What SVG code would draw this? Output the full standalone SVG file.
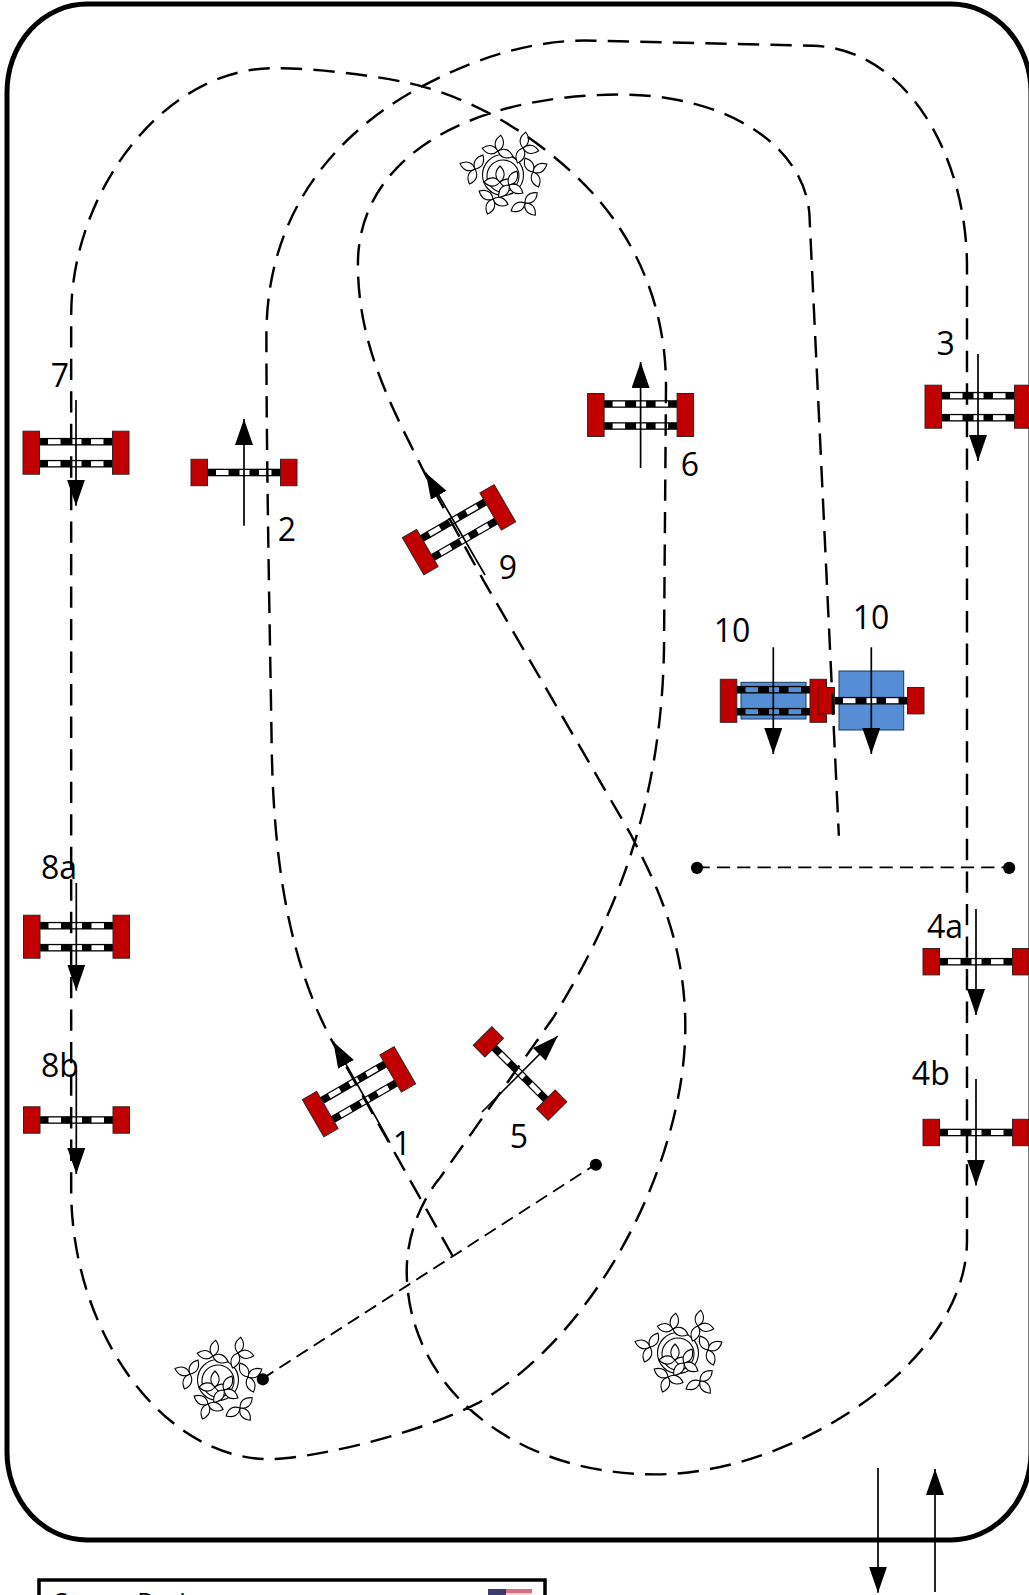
<svg xmlns="http://www.w3.org/2000/svg" xmlns:xlink="http://www.w3.org/1999/xlink" width="1029" height="1595" viewBox="0 0 1029 1595">
<style>
.lb{font-family:"Open Sans","Liberation Sans",sans-serif;font-size:32px;fill:#000;text-anchor:middle}
.w{fill:#c00000;stroke:#3a2020;stroke-width:1}
.r{fill:#000}
.g{fill:#fff}
.bl{fill:#558ed5}
.blo{fill:#558ed5;stroke:#17375e;stroke-width:1}
.ar{stroke:#000;stroke-width:1.7;fill:none;marker-end:url(#ah)}
.course{fill:none;stroke:#000;stroke-width:2.4;stroke-dasharray:21 11}
.ln{fill:none;stroke:#000;stroke-width:1.8;stroke-dasharray:13 7}
.lf{fill:#fff;stroke:#000;stroke-width:1.1}
</style>
<defs>
<marker id="ah" markerUnits="userSpaceOnUse" markerWidth="27" markerHeight="19" refX="26" refY="9" orient="auto"><path d="M0,0 L26,9 L0,18 z" fill="#000"/></marker>
<g id="rail"><rect class="r" x="-37" y="-3.8" width="74" height="7.6"/><rect class="g" x="-28" y="-2.5" width="12.5" height="5"/><rect class="g" x="-4.5" y="-2.5" width="10" height="5"/><rect class="g" x="15" y="-2.5" width="12.5" height="5"/></g>
<g id="railb"><rect class="r" x="-37" y="-3.8" width="74" height="7.6"/><rect class="bl" x="-28" y="-2.5" width="12.5" height="5"/><rect class="bl" x="-4.5" y="-2.5" width="10" height="5"/><rect class="bl" x="15" y="-2.5" width="12.5" height="5"/></g>
<g id="single"><use xlink:href="#rail"/><rect class="w" x="-53" y="-13.2" width="16.5" height="26.4"/><rect class="w" x="36.5" y="-13.2" width="16.5" height="26.4"/></g>
<g id="double"><use xlink:href="#rail" y="-11"/><use xlink:href="#rail" y="11"/><rect class="w" x="-53" y="-21.5" width="16.5" height="43"/><rect class="w" x="36.5" y="-21.5" width="16.5" height="43"/></g>
<path id="leaf" class="lf" d="M0,0 C5,-4 6,-10 0,-16 C-6,-10 -5,-4 0,0z"/>
<g id="cl"><use xlink:href="#leaf" transform="rotate(-100)"/><use xlink:href="#leaf" transform="rotate(-10)"/><use xlink:href="#leaf" transform="rotate(90)"/></g>
<g id="tree">
<circle r="20.5" fill="none" stroke="#000" stroke-width="1.1"/>
<circle cx="0" cy="1" r="16" fill="none" stroke="#000" stroke-width="1.1"/>
<use xlink:href="#cl" transform="translate(-5,-24) rotate(20)"/>
<use xlink:href="#cl" transform="translate(20,-27) rotate(110)"/>
<use xlink:href="#cl" transform="translate(30,-3) rotate(70)"/>
<use xlink:href="#cl" transform="translate(22,28) rotate(150)"/>
<use xlink:href="#cl" transform="translate(-10,24) rotate(210)"/>
<use xlink:href="#cl" transform="translate(-28,-6) rotate(-60)"/>
<use xlink:href="#cl" transform="translate(-3,7) rotate(10)"/>
<use xlink:href="#cl" transform="translate(6,10) rotate(130)"/>
</g>
</defs>
<rect width="1029" height="1595" fill="#fff"/>
<rect id="arena" x="7" y="4" width="1024" height="1536" rx="80" ry="88" fill="#fff" stroke="#000" stroke-width="5"/>
<g id="tree1"><use xlink:href="#tree" x="503" y="175"/></g>
<g id="tree2"><use xlink:href="#tree" x="678" y="1353"/></g>
<g id="tree3"><use xlink:href="#tree" x="218" y="1380"/></g>
<g id="jump1"><use xlink:href="#double" transform="translate(359,1091.7) rotate(-30)"/><path class="ar" d="M390,1142.7 L333.3,1041.7"/><text class="lb" x="402" y="1155">1</text></g>
<g id="jump2"><use xlink:href="#single" x="244" y="472.5"/><path class="ar" d="M244,525.7 V419"/><text class="lb" x="287" y="541">2</text></g>
<g id="jump3"><use xlink:href="#double" x="978" y="406.7"/><path class="ar" d="M978,354 V461"/><text class="lb" x="945.6" y="355">3</text></g>
<g id="jump4a"><use xlink:href="#single" x="976" y="961.7"/><path class="ar" d="M976,909 V1015"/><text class="lb" x="945" y="937.7">4a</text></g>
<g id="jump4b"><use xlink:href="#single" x="976" y="1132.5"/><path class="ar" d="M976,1079 V1185.6"/><text class="lb" x="930.8" y="1085">4b</text></g>
<g id="jump5"><use xlink:href="#single" transform="translate(520,1073.5) rotate(45)"/><path class="ar" d="M482,1112 L557.7,1036"/><text class="lb" x="519" y="1148">5</text></g>
<g id="jump6"><use xlink:href="#double" x="640.6" y="415"/><path class="ar" d="M640.6,468 V362"/><text class="lb" x="689.9" y="476">6</text></g>
<g id="jump7"><use xlink:href="#double" x="76" y="452.7"/><path class="ar" d="M76,400 V505.7"/><text class="lb" x="60" y="387">7</text></g>
<g id="jump8a"><use xlink:href="#double" x="76.5" y="936.7"/><path class="ar" d="M76.3,883 V990.7"/><text class="lb" x="59" y="879">8a</text></g>
<g id="jump8b"><use xlink:href="#single" x="76.5" y="1120"/><path class="ar" d="M76.3,1070 V1174"/><text class="lb" x="60" y="1077">8b</text></g>
<g id="jump9"><use xlink:href="#double" transform="translate(459,529.7) rotate(-30)"/><path class="ar" d="M485,575 L425.7,472.7"/><text class="lb" x="508" y="579">9</text></g>
<g id="jump10a"><rect class="blo" x="741" y="682.3" width="65" height="36.7"/><use xlink:href="#railb" x="773.5" y="689.7"/><use xlink:href="#railb" x="773.5" y="711.7"/><rect class="w" x="720.3" y="679.3" width="16.5" height="43"/><rect class="w" x="810" y="679.3" width="16.5" height="43"/><path class="ar" d="M773.3,647.3 V754"/><text class="lb" x="732" y="641.7">10</text></g>
<g id="jump10b"><rect class="blo" x="839" y="671" width="64.7" height="59"/><use xlink:href="#single" x="871" y="700.7"/><path class="ar" d="M871.3,647.3 V754"/><text class="lb" x="871" y="629">10</text></g>
<g id="connectors">
<g transform="scale(1.0168)">
<path class="course" d="M445,1235 L330,1030 C285,950 268,850 267,720 C265,600 262,450 262,330 C262,200 340,125 415,85 C480,50 540,38 585,40 L800,45 C890,48 950,150 951,260 L951,1220 C951,1340 780,1450 645,1450 C500,1450 400,1360 400,1250 C400,1195 433,1158 433,1158 L544,1001 C600,910 650,800 653,640 L655,380 C655,300 625,240 590,198 C555,157 490,105 415,85 C380,75 310,67 270,67 C160,67 70,190 70,310 L70,1170 C70,1310 160,1435 265,1435 C300,1435 400,1415 470,1380 C590,1310 674,1140 674,1010 C674,920 640,860 620,820 L475,570 L420,470 C385,400 352,340 352,260 C352,150 470,93 610,93 C710,93 790,140 796,210 L825,822"/>
<path class="ln" d="M685,853 H992"/>
<path class="ln" d="M258,1356 L586,1145"/>
<circle cx="685.5" cy="853.5" r="6"/><circle cx="992.5" cy="853.5" r="6"/><circle cx="258.5" cy="1356.5" r="6"/><circle cx="586" cy="1145.5" r="6"/>
</g>
</g>
<g id="gate"><path class="ar" d="M878,1468 V1592.7"/><path class="ar" d="M935,1592 V1469"/></g>
<g id="legend"><rect x="39" y="1580" width="506" height="60" fill="#fff" stroke="#000" stroke-width="3.5"/>
<text x="52" y="1610" style="font-family:'Open Sans','Liberation Sans',sans-serif;font-size:24px">Course Designer:</text>
<rect x="488" y="1589" width="44" height="6" fill="#f3d9dc"/><rect x="506" y="1589" width="26" height="4" fill="#d9707e"/><rect x="488" y="1589" width="18" height="6" fill="#3c3b6e"/></g>
</svg>
